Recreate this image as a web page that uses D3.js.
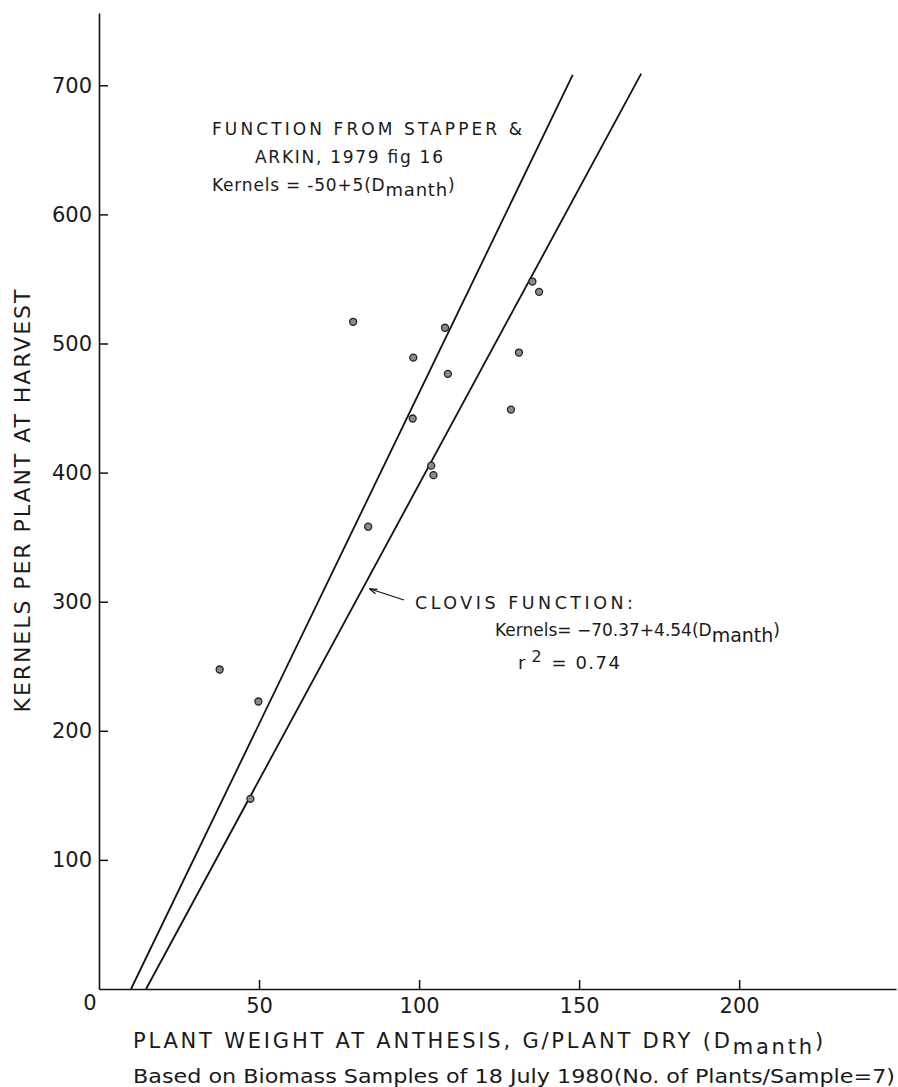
<!DOCTYPE html>
<html>
<head>
<meta charset="utf-8">
<script src="https://cdn.jsdelivr.net/npm/d3@7"></script>
<style>
  html, body { margin: 0; padding: 0; background: #fff; }
  svg { display: block; }
  text { font-family: "DejaVu Sans", "Liberation Sans", sans-serif; fill: #1a1a1a; }
</style>
</head>
<body>
<svg id="chart" width="898" height="1087"></svg>
<script>
// ---- data ----
const plantWeight = [37.7, 49.8, 47.3, 79.4, 84.1, 98.2, 98.0, 103.8, 104.5, 108.1, 109.0, 128.7, 131.2, 135.4, 137.5];
const kernels     = [247.5, 222.7, 147.3, 516.8, 358.1, 489.1, 441.9, 405.4, 398.0, 512.2, 476.5, 448.8, 493.0, 548.0, 540.0];
// fitted lines, as drawn (endpoints: x, y)
const stapperLine = [[10, 0], [148, 708]];
const clovisLine  = [[14.7, 0], [169.4, 709]];
const xTicks = [50, 100, 150, 200];
const yTicks = [100, 200, 300, 400, 500, 600, 700];

const svg = d3.select("#chart");
const x = d3.scaleLinear().domain([0, 249]).range([99, 896]);
const y = d3.scaleLinear().domain([0, 756]).range([989, 13]);

// axes
const yAxis = d3.axisLeft(y).tickValues(yTicks).tickSize(-9).tickSizeOuter(0).tickPadding(7);
const xAxis = d3.axisBottom(x).tickValues(xTicks).tickSize(-9).tickSizeOuter(0).tickPadding(9);

const gy = svg.append("g").attr("transform", `translate(${x(0)},0)`).call(yAxis);
const gx = svg.append("g").attr("transform", `translate(0,${y(0)})`).call(xAxis);
[gx, gy].forEach(g => {
  g.selectAll("path.domain").attr("stroke", "#111").attr("stroke-width", 1.6);
  g.selectAll(".tick line").attr("stroke", "#111").attr("stroke-width", 1.5);
  g.selectAll(".tick text").attr("font-size", 21).attr("font-family", "DejaVu Sans").attr("fill", "#1a1a1a");
});
// origin label
svg.append("text").attr("x", x(0) - 9).attr("y", y(0) + 21)
  .attr("text-anchor", "middle").attr("font-size", 21).text("0");

// lines
const line = d3.line().x(d => x(d[0])).y(d => y(d[1]));
[stapperLine, clovisLine].forEach(l => {
  svg.append("path").attr("d", line(l)).attr("fill", "none")
    .attr("stroke", "#111").attr("stroke-width", 1.8);
});

// points
svg.append("g").selectAll("circle").data(plantWeight).join("circle")
  .attr("cx", d => x(d))
  .attr("cy", (d, i) => y(kernels[i]))
  .attr("r", 3.5)
  .attr("fill", "#8a8a8a")
  .attr("stroke", "#222")
  .attr("stroke-width", 1.3);

// y axis title
svg.append("text")
  .attr("transform", "translate(30,501) rotate(-90)")
  .attr("text-anchor", "middle")
  .attr("font-size", 22)
  .attr("textLength", 423).attr("lengthAdjust", "spacing")
  .text("KERNELS PER PLANT AT HARVEST");

// x axis title (with subscript)
const xt = svg.append("text").attr("x", 133).attr("y", 1048).attr("font-size", 21)
  .attr("letter-spacing", 2.8);
xt.append("tspan").text("PLANT WEIGHT AT ANTHESIS,  G/PLANT DRY (D");
xt.append("tspan").attr("dy", 6).text("manth");
xt.append("tspan").attr("dy", -6).text(")");

svg.append("text").attr("x", 133).attr("y", 1083).attr("font-size", 20)
  .attr("textLength", 762).attr("lengthAdjust", "spacingAndGlyphs")
  .text("Based on Biomass Samples of 18 July 1980(No. of Plants/Sample=7)");

// Stapper annotation
svg.append("text").attr("x", 212).attr("y", 135).attr("font-size", 17)
  .attr("textLength", 310).attr("lengthAdjust", "spacing")
  .text("FUNCTION FROM STAPPER &");
svg.append("text").attr("x", 255).attr("y", 163).attr("font-size", 17)
  .attr("textLength", 188).attr("lengthAdjust", "spacing")
  .text("ARKIN, 1979 fig 16");
const st = svg.append("text").attr("x", 212).attr("y", 191).attr("font-size", 17)
  .attr("letter-spacing", 0.8);
st.append("tspan").text("Kernels = -50+5(D");
st.append("tspan").attr("dy", 5).attr("font-size", 18).text("manth");
st.append("tspan").attr("dy", -5).text(")");

// Clovis annotation
svg.append("text").attr("x", 415).attr("y", 609).attr("font-size", 17.5)
  .attr("textLength", 218).attr("lengthAdjust", "spacing")
  .text("CLOVIS  FUNCTION:");
const cl = svg.append("text").attr("x", 495).attr("y", 636).attr("font-size", 17);
cl.append("tspan").text("Kernels= \u221270.37+4.54(D");
cl.append("tspan").attr("dy", 6).attr("font-size", 19).text("manth");
cl.append("tspan").attr("dy", -6).text(")");
const r2 = svg.append("text").attr("x", 518).attr("y", 669).attr("font-size", 18);
r2.append("tspan").text("r");
r2.append("tspan").attr("dx", 6).attr("dy", -7).attr("font-size", 16).text("2");
r2.append("tspan").attr("dx", 10).attr("dy", 7).attr("letter-spacing", 1.5).text("= 0.74");

// arrow pointing to Clovis line
const arrowTip = [x(84.5), y(310)];
svg.append("line")
  .attr("x1", 404).attr("y1", 600)
  .attr("x2", arrowTip[0]).attr("y2", arrowTip[1])
  .attr("stroke", "#111").attr("stroke-width", 1.2);
svg.append("path")
  .attr("d", `M${arrowTip[0]},${arrowTip[1]} l8,0.5 M${arrowTip[0]},${arrowTip[1]} l6,5`)
  .attr("stroke", "#111").attr("stroke-width", 1.2).attr("fill", "none");
</script>
</body>
</html>
